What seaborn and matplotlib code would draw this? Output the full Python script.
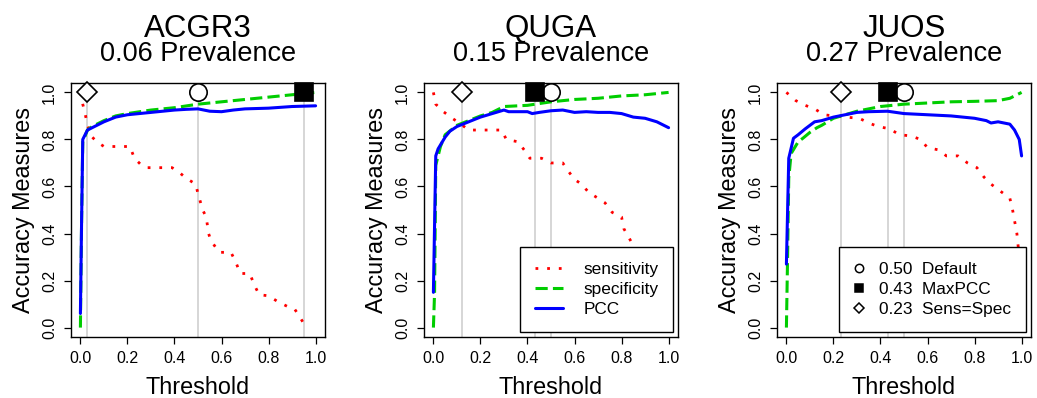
import numpy as np
import pandas as pd
import matplotlib
matplotlib.use("Agg")
import matplotlib.pyplot as plt
from matplotlib.lines import Line2D
import seaborn as sns

sns.set_style("ticks")
plt.rcParams['font.family'] = ['Liberation Sans', 'DejaVu Sans']
plt.rcParams['text.color'] = 'black'
plt.rcParams['axes.labelcolor'] = 'black'
plt.rcParams['xtick.color'] = 'black'
plt.rcParams['ytick.color'] = 'black'
plt.rcParams['axes.edgecolor'] = 'black'

#-----------------------------------------------------------------------
# values
species = ["ACGR3", "QUGA", "JUOS"]
prevalence = [0.06, 0.15, 0.27]

sens_x = [
    [0.00, 0.01, 0.02, 0.03, 0.05, 0.07, 0.10, 0.21, 0.23, 0.26, 0.28, 0.39, 0.42, 0.45, 0.49, 0.50,
     0.52, 0.535, 0.545, 0.555, 0.59, 0.64, 0.66, 0.68, 0.72, 0.74, 0.76, 0.80, 0.84, 0.88, 0.91, 0.93, 0.96],
    [0.00, 0.01, 0.04, 0.08, 0.11, 0.15, 0.29, 0.31, 0.36, 0.39, 0.41, 0.46, 0.50, 0.55, 0.57, 0.60,
     0.63, 0.66, 0.70, 0.73, 0.76, 0.80, 0.81, 0.83, 0.86, 0.90, 0.95, 1.00],
    [0.00, 0.04, 0.08, 0.12, 0.16, 0.20, 0.25, 0.31, 0.35, 0.39, 0.44, 0.48, 0.53, 0.57, 0.60, 0.65,
     0.68, 0.73, 0.77, 0.81, 0.84, 0.87, 0.91, 0.95, 0.96, 0.97, 0.98, 0.99, 1.00],
]
sens_y = [
    [1.00, 0.95, 0.91, 0.86, 0.81, 0.79, 0.77, 0.77, 0.72, 0.69, 0.68, 0.68, 0.66, 0.635, 0.61, 0.57,
     0.50, 0.47, 0.40, 0.37, 0.32, 0.32, 0.28, 0.23, 0.23, 0.18, 0.14, 0.135, 0.11, 0.09, 0.08, 0.05, 0.00],
    [1.00, 0.95, 0.92, 0.89, 0.87, 0.84, 0.84, 0.80, 0.79, 0.75, 0.72, 0.72, 0.70, 0.70, 0.67, 0.63,
     0.61, 0.575, 0.55, 0.53, 0.49, 0.47, 0.42, 0.385, 0.33, 0.25, 0.12, 0.00],
    [1.00, 0.965, 0.945, 0.93, 0.905, 0.90, 0.895, 0.89, 0.87, 0.855, 0.845, 0.82, 0.815, 0.80, 0.765, 0.755,
     0.73, 0.73, 0.70, 0.68, 0.64, 0.61, 0.58, 0.55, 0.51, 0.455, 0.40, 0.30, 0.00],
]

spec_x = [
    [0.00, 0.005, 0.01, 0.03, 0.05, 0.10, 0.15, 0.20, 0.30, 0.40, 0.50, 0.60, 0.70, 0.80, 0.90, 0.95, 1.00],
    [0.00, 0.005, 0.01, 0.03, 0.05, 0.10, 0.15, 0.20, 0.25, 0.30, 0.40, 0.50, 0.60, 0.70, 0.80, 0.90, 1.00],
    [0.00, 0.005, 0.01, 0.02, 0.05, 0.07, 0.10, 0.13, 0.15, 0.20, 0.25, 0.30, 0.35, 0.40, 0.45, 0.50,
     0.60, 0.70, 0.80, 0.90, 0.95, 0.98, 1.00],
]
spec_y = [
    [0.00, 0.45, 0.79, 0.84, 0.855, 0.88, 0.90, 0.91, 0.925, 0.935, 0.95, 0.96, 0.97, 0.98, 0.99, 0.995, 1.00],
    [0.00, 0.15, 0.69, 0.77, 0.82, 0.86, 0.88, 0.90, 0.915, 0.94, 0.945, 0.96, 0.97, 0.975, 0.985, 0.99, 1.00],
    [0.00, 0.30, 0.635, 0.74, 0.79, 0.805, 0.83, 0.85, 0.86, 0.89, 0.905, 0.92, 0.93, 0.94, 0.945, 0.95,
     0.955, 0.96, 0.962, 0.965, 0.975, 0.99, 1.00],
]

pcc_x = [
    [0.00, 0.005, 0.01, 0.02, 0.03, 0.05, 0.10, 0.15, 0.20, 0.30, 0.40, 0.45, 0.50, 0.55, 0.60, 0.65,
     0.70, 0.80, 0.90, 1.00],
    [0.00, 0.01, 0.02, 0.05, 0.07, 0.10, 0.15, 0.20, 0.25, 0.30, 0.32, 0.40, 0.42, 0.45, 0.50, 0.55,
     0.60, 0.65, 0.70, 0.75, 0.80, 0.85, 0.90, 0.95, 1.00],
    [0.00, 0.01, 0.03, 0.05, 0.08, 0.10, 0.12, 0.15, 0.20, 0.25, 0.30, 0.35, 0.43, 0.50, 0.60, 0.70,
     0.80, 0.85, 0.87, 0.90, 0.95, 0.97, 0.99, 1.00],
]
pcc_y = [
    [0.06, 0.45, 0.80, 0.82, 0.84, 0.85, 0.875, 0.895, 0.905, 0.915, 0.925, 0.928, 0.93, 0.92, 0.918, 0.925,
     0.93, 0.933, 0.94, 0.943],
    [0.15, 0.73, 0.76, 0.81, 0.835, 0.855, 0.875, 0.895, 0.91, 0.925, 0.918, 0.918, 0.91, 0.915, 0.922, 0.925,
     0.915, 0.918, 0.915, 0.915, 0.91, 0.895, 0.89, 0.875, 0.85],
    [0.27, 0.72, 0.805, 0.82, 0.845, 0.86, 0.875, 0.88, 0.895, 0.905, 0.915, 0.918, 0.92, 0.91, 0.905, 0.90,
     0.89, 0.88, 0.87, 0.875, 0.865, 0.84, 0.80, 0.73],
]

# optimal thresholds: Default, MaxPCC, Sens=Spec
opt_methods = ["Default", "MaxPCC", "Sens=Spec"]
opt_thresh = [[0.50, 0.95, 0.03], [0.50, 0.43, 0.12], [0.50, 0.43, 0.23]]

#-----------------------------------------------------------------------
col_sens, col_spec, col_pcc = "#FF0000", "#00CD00", "#0000FF"
ls_sens = (0, (1, 3.2))
ls_spec = (0, (4, 1.7))
opt_marks = [dict(marker="o", mfc="white", mec="black"),
             dict(marker="s", mfc="black", mec="black"),
             dict(marker="D", mfc="white", mec="black")]
opt_ms = [12.5, 12.5, 10.5]

fig = plt.figure(figsize=(10.37, 3.98), dpi=100)
W, H = 1037.0, 398.0
lefts = [71, 424, 777]

for i in range(3):
    ax = fig.add_axes([lefts[i]/W, (H-337)/H, 254/W, 254/H])
    ax.set_xlim(-0.04, 1.04)
    ax.set_ylim(-0.04, 1.04)

    for t in opt_thresh[i]:
        ax.axvline(t, color="#D3D3D3", lw=1.3, zorder=1)

    sns.lineplot(x=sens_x[i], y=sens_y[i], ax=ax, color=col_sens, lw=2.0, linestyle=ls_sens,
                 estimator=None, sort=False, zorder=3)
    sns.lineplot(x=spec_x[i], y=spec_y[i], ax=ax, color=col_spec, lw=2.2, linestyle=ls_spec,
                 estimator=None, sort=False, zorder=3)
    sns.lineplot(x=pcc_x[i], y=pcc_y[i], ax=ax, color=col_pcc, lw=2.2,
                 estimator=None, sort=False, zorder=4)

    for k in range(3):
        ax.plot([opt_thresh[i][k]], [1.0], ls="none", ms=opt_ms[k], mew=1.2,
                zorder=6, clip_on=False, **opt_marks[k])

    ax.set_xticks([0, 0.2, 0.4, 0.6, 0.8, 1.0])
    ax.set_yticks([0, 0.2, 0.4, 0.6, 0.8, 1.0])
    ax.set_xticklabels(["0.0", "0.2", "0.4", "0.6", "0.8", "1.0"])
    ax.set_yticklabels(["0.0", "0.2", "0.4", "0.6", "0.8", "1.0"], rotation=90, va="center")
    ax.tick_params(direction="out", length=5, width=0.9, pad=5, labelsize=11.5, color="black",
                   labelcolor="black")
    for s in ax.spines.values():
        s.set_visible(True)
        s.set_color("black")
        s.set_linewidth(1.0)

    ax.set_xlabel("Threshold", fontsize=16.8, color="black")
    ax.set_ylabel("Accuracy Measures", fontsize=16.8, color="black")
    ax.xaxis.set_label_coords(0.5, -0.155)
    ax.yaxis.set_label_coords(-0.14, 0.5)

    ax.text(0.5, 1.183, species[i], transform=ax.transAxes, ha="center", va="baseline",
            fontsize=22.5, color="black")
    ax.text(0.5, 1.088, "%.2f Prevalence" % prevalence[i], transform=ax.transAxes,
            ha="center", va="baseline", fontsize=19.5, color="black")

    if i == 1:
        handles = [Line2D([], [], color=col_sens, lw=2.0, ls=ls_sens),
                   Line2D([], [], color=col_spec, lw=2.2, ls=ls_spec),
                   Line2D([], [], color=col_pcc, lw=2.2)]
        leg = ax.legend(handles, ["sensitivity", "specificity", "PCC"], loc="lower right",
                        fontsize=12.4, frameon=True, fancybox=False, borderaxespad=0.3,
                        handlelength=1.6, handletextpad=1.2, borderpad=0.85, labelspacing=0.3)
    if i == 2:
        handles = [Line2D([], [], ls="none", ms=6, mew=1.1, **opt_marks[0]),
                   Line2D([], [], ls="none", ms=6, mew=1.1, **opt_marks[1]),
                   Line2D([], [], ls="none", ms=5.5, mew=1.1, **opt_marks[2])]
        labels = ["%.2f  %s" % (opt_thresh[i][k], opt_methods[k]) for k in range(3)]
        leg = ax.legend(handles, labels, loc="lower right",
                        fontsize=12.4, frameon=True, fancybox=False, borderaxespad=0.3,
                        handlelength=0.6, handletextpad=0.9, borderpad=0.85, labelspacing=0.3)
    if i > 0:
        for txt in leg.get_texts():
            txt.set_color("black")
        leg.get_frame().set_edgecolor("black")
        leg.get_frame().set_linewidth(1.0)
        leg.get_frame().set_alpha(1)
        leg.set_zorder(10)

plt.savefig("out.png", dpi=100)
plt.close()
